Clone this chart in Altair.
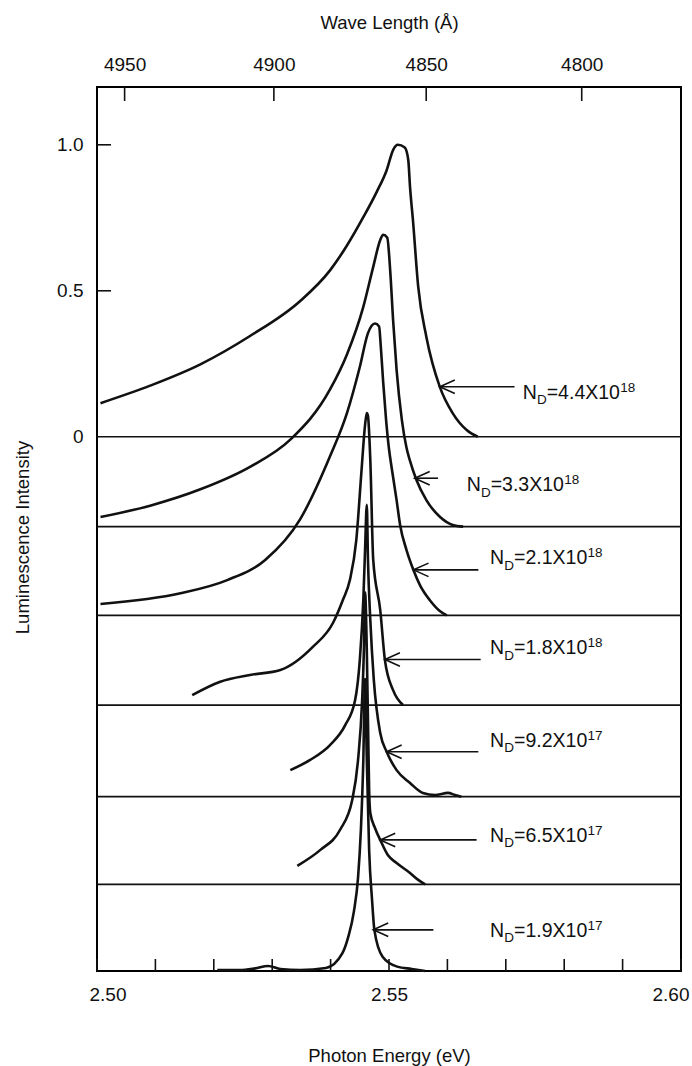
import altair as alt
import pandas as pd

# ---- spectra: photon energy (eV) and normalised intensity above each baseline ----
labels_main = ["=4.4X10", "=3.3X10", "=2.1X10", "=1.8X10", "=9.2X10", "=6.5X10", "=1.9X10"]
labels_exp = ["18", "18", "18", "18", "17", "17", "17"]
offsets = [0.0, -0.308, -0.612, -0.919, -1.233, -1.533, -1.830]

e_44 = [2.5006, 2.5091, 2.5177, 2.5262, 2.5348, 2.5399, 2.5428, 2.5456, 2.5479, 2.5496, 2.5507,
        2.5515, 2.5527, 2.5533, 2.5536, 2.5541, 2.5550, 2.5564, 2.5587, 2.5609, 2.5633, 2.5652]
i_44 = [0.115, 0.175, 0.248, 0.345, 0.465, 0.570, 0.655, 0.752, 0.839, 0.913, 0.982,
        1.000, 0.991, 0.948, 0.856, 0.742, 0.514, 0.342, 0.171, 0.081, 0.023, 0.0]

e_33 = [2.5006, 2.5091, 2.5177, 2.5262, 2.5331, 2.5399, 2.5428, 2.5456, 2.5473, 2.5485, 2.5490,
        2.5497, 2.5502, 2.5507, 2.5513, 2.5522, 2.5530, 2.5536, 2.5547, 2.5564, 2.5587, 2.5609, 2.5627]
i_33 = [0.033, 0.072, 0.128, 0.205, 0.298, 0.470, 0.590, 0.753, 0.890, 0.982, 1.000,
        0.990, 0.879, 0.708, 0.537, 0.366, 0.270, 0.225, 0.160, 0.091, 0.034, 0.006, 0.0]

e_21 = [2.5006, 2.5143, 2.5223, 2.5288, 2.5348, 2.5399, 2.5428, 2.5450, 2.5464, 2.5476, 2.5483,
        2.5486, 2.5490, 2.5495, 2.5500, 2.5505, 2.5513, 2.5519, 2.5530, 2.5542, 2.5553, 2.5570,
        2.5587, 2.5599]
i_21 = [0.039, 0.076, 0.121, 0.190, 0.330, 0.545, 0.693, 0.851, 0.967, 1.000, 0.990,
        0.920, 0.800, 0.670, 0.570, 0.500, 0.395, 0.310, 0.224, 0.155, 0.104, 0.052,
        0.015, 0.0]

e_18 = [2.5163, 2.5211, 2.5262, 2.5314, 2.5370, 2.5404, 2.5421, 2.5433, 2.5444, 2.5453, 2.5459,
        2.5462, 2.5464, 2.5468, 2.5473, 2.5485, 2.5493, 2.5507, 2.5524]
i_18 = [0.034, 0.080, 0.103, 0.120, 0.200, 0.281, 0.360, 0.428, 0.565, 0.805, 0.959,
        1.000, 0.990, 0.839, 0.497, 0.325, 0.154, 0.051, 0.0]

e_92 = [2.5331, 2.5365, 2.5399, 2.5425, 2.5442, 2.5450, 2.5456, 2.5459, 2.5462, 2.5464, 2.5468,
        2.5474, 2.5485, 2.5496, 2.5513, 2.5536, 2.5558, 2.5579, 2.5601, 2.5613, 2.5624]
i_92 = [0.091, 0.126, 0.177, 0.245, 0.331, 0.468, 0.674, 0.845, 1.000, 0.810, 0.605,
        0.400, 0.218, 0.154, 0.091, 0.047, 0.013, 0.006, 0.013, 0.006, 0.0]

e_65 = [2.5343, 2.5382, 2.5416, 2.5437, 2.5447, 2.5454, 2.5457, 2.5459, 2.5462, 2.5464, 2.5466,
        2.5468, 2.5476, 2.5485, 2.5498, 2.5513, 2.5536, 2.5550, 2.5562]
i_65 = [0.063, 0.117, 0.186, 0.289, 0.426, 0.631, 0.802, 1.000, 0.800, 0.560, 0.320,
        0.244, 0.193, 0.152, 0.100, 0.073, 0.039, 0.015, 0.0]

e_19 = [2.5206, 2.5245, 2.5271, 2.5293, 2.5314, 2.5348, 2.5392, 2.5420, 2.5430, 2.5440, 2.5447,
        2.5452, 2.5456, 2.5459, 2.5462, 2.5466, 2.5471, 2.5475, 2.5489, 2.5514, 2.5539, 2.5562]
i_19 = [0.003, 0.003, 0.009, 0.017, 0.007, 0.003, 0.010, 0.060, 0.115, 0.205, 0.320,
        0.490, 0.720, 1.000, 0.723, 0.414, 0.243, 0.140, 0.049, 0.015, 0.007, 0.0]

energies = [e_44, e_33, e_21, e_18, e_92, e_65, e_19]
intensities = [i_44, i_33, i_21, i_18, i_92, i_65, i_19]

# ---- arrows and their labels ----
arrow_tip_e = [2.5587, 2.5544, 2.5542, 2.5493, 2.5496, 2.5485, 2.5473]
arrow_tail_e = [2.5715, 2.5584, 2.5653, 2.5657, 2.5653, 2.5650, 2.5576]
arrow_y = [0.171, -0.142, -0.456, -0.763, -1.079, -1.381, -1.689]
label_e = [2.5729, 2.5633, 2.5673, 2.5673, 2.5673, 2.5673, 2.5673]
label_y = [0.131, -0.186, -0.437, -0.745, -1.062, -1.387, -1.712]

# ---- axes ----
energy_ticks = [2.50, 2.51, 2.52, 2.53, 2.54, 2.55, 2.56, 2.57, 2.58, 2.59, 2.60]
energy_labels = [2.50, 2.55, 2.60]
wavelength_ticks = [4950, 4900, 4850, 4800]
intensity_ticks = [1.0, 0.5]
intensity_labels = [1.0, 0.5, 0.0]
HC = 12398.4  # eV * Angstrom

W, H = 584, 884
FONT = "Liberation Sans"
INK = "#111111"

rows = []
for k, (es, vs) in enumerate(zip(energies, intensities)):
    for e, v in zip(es, vs):
        rows.append({"series": k, "E": e, "y": v + offsets[k]})
spectra = pd.DataFrame(rows)

baselines = pd.DataFrame({"y": offsets[:-1]})
arrows = pd.DataFrame({"tip": arrow_tip_e, "tail": arrow_tail_e, "y": arrow_y})
notes = pd.DataFrame({"E": label_e, "y": label_y, "main": labels_main, "exp": labels_exp})
bottom_ticks = pd.DataFrame({"E": energy_ticks})
top_ticks = pd.DataFrame({"E": [HC / w for w in wavelength_ticks]})
left_ticks = pd.DataFrame({"v": intensity_ticks})

x_scale = alt.Scale(domain=[2.50, 2.60], nice=False, zero=False)
y_scale = alt.Scale(domain=[-1.830, 1.198], nice=False, zero=False)

curves = alt.Chart(spectra).mark_line(
    color=INK, strokeWidth=2.6, interpolate="monotone"
).encode(
    x=alt.X("E:Q", scale=x_scale, axis=alt.Axis(
        orient="bottom", values=energy_labels, format=".2f", ticks=False, domain=False,
        grid=False, labelPadding=14, labelFlush=True, labelFlushOffset=8,
        title="Photon Energy (eV)",
        titleX=W / 2, titleY=84, titleAlign="center", titleBaseline="middle")),
    y=alt.Y("y:Q", scale=y_scale, axis=alt.Axis(
        orient="left", values=intensity_labels, ticks=False, domain=False, grid=False,
        labelPadding=14,
        labelExpr="datum.value == 0 ? '0' : format(datum.value, '.1f')",
        title="Luminescence Intensity", titleAngle=270, titleX=-75, titleY=450,
        titleAlign="center", titleBaseline="middle")),
    detail="series:N",
)

base_rules = alt.Chart(baselines).mark_rule(color=INK, strokeWidth=1.7).encode(
    y=alt.Y("y:Q", scale=y_scale, axis=None)
)

tick_b = alt.Chart(bottom_ticks).mark_rule(color=INK, strokeWidth=1.6).encode(
    x=alt.X("E:Q", scale=x_scale, axis=None), y=alt.value(H), y2=alt.value(H - 12)
)

tick_t = alt.Chart(top_ticks).mark_rule(color=INK, strokeWidth=1.6).encode(
    x=alt.X("E:Q", scale=x_scale, axis=alt.Axis(
        orient="top", values=[HC / w for w in wavelength_ticks], ticks=False, domain=False,
        grid=False, labelPadding=13,
        labelExpr="format(round(12398.4 / datum.value / 10) * 10, 'd')",
        title="Wave Length (Å)", titleX=W / 2, titleY=-65, titleAlign="center",
        titleBaseline="middle")),
    y=alt.value(0), y2=alt.value(14),
)

tick_l = alt.Chart(left_ticks).mark_rule(color=INK, strokeWidth=1.6).encode(
    y=alt.Y("v:Q", scale=y_scale, axis=None), x=alt.value(0), x2=alt.value(14)
)

shafts = alt.Chart(arrows).mark_rule(color=INK, strokeWidth=1.6).encode(
    x=alt.X("tip:Q", scale=x_scale, axis=None), x2="tail:Q",
    y=alt.Y("y:Q", scale=y_scale, axis=None),
)

heads = alt.Chart(arrows).mark_point(
    shape="M1,-0.45L0,0L1,0.45", size=900, filled=False, color=INK, strokeWidth=1.6, opacity=1
).encode(
    x=alt.X("tip:Q", scale=x_scale, axis=None),
    y=alt.Y("y:Q", scale=y_scale, axis=None),
)


def note_layer(text, size, dx, dy):
    return alt.Chart(notes).mark_text(
        align="left", baseline="alphabetic", font=FONT, fontSize=size, color=INK, dx=dx, dy=dy
    ).encode(
        x=alt.X("E:Q", scale=x_scale, axis=None),
        y=alt.Y("y:Q", scale=y_scale, axis=None),
        text=text,
    )


n_part = note_layer(alt.value("N"), 19.5, 0, 0)
d_part = note_layer(alt.value("D"), 13.5, 14.3, 5.6)
m_part = note_layer("main:N", 19.5, 24.0, 0)
e_part = note_layer("exp:N", 13.5, 97.5, -7)

chart = alt.layer(
    base_rules, curves, tick_b, tick_t, tick_l, shafts, heads, n_part, d_part, m_part, e_part
).resolve_axis(x="independent", y="independent").properties(
    width=W, height=H,
    background="white",
    autosize=alt.AutoSizeParams(type="none"),
    padding={"left": 97, "top": 87, "right": 11, "bottom": 95},
).configure_view(
    stroke="black", strokeWidth=2
).configure_axis(
    labelFont=FONT, labelFontSize=19, labelColor=INK,
    titleFont=FONT, titleFontSize=18.5, titleColor=INK, titleFontWeight="normal",
)

chart.save("out.html", embed_options={"renderer": "svg", "actions": False})
